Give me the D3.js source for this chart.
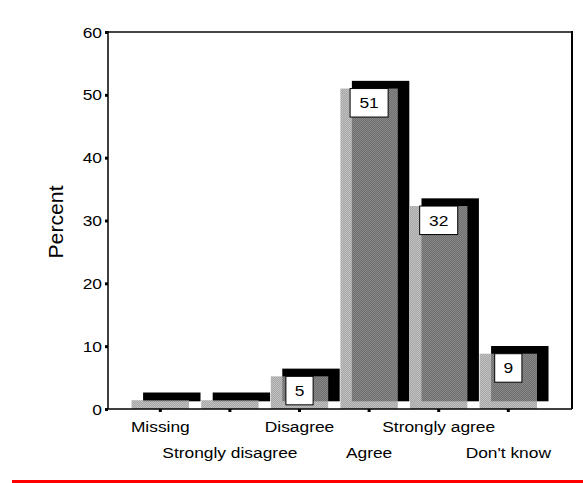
<!DOCTYPE html>
<html>
<head>
<meta charset="utf-8">
<script src="https://cdn.jsdelivr.net/npm/d3@7"></script>
<style>
  body { margin: 0; background: #fff; }
  text { font-family: "Liberation Sans", Arial, sans-serif; fill: #000; }
</style>
</head>
<body>
<svg id="chart" width="583" height="483"></svg>
<script>
const categories = ['Missing', 'Strongly disagree', 'Disagree', 'Agree', 'Strongly agree', "Don't know"];
const percents = [1.4, 1.4, 5.2, 51.0, 32.3, 8.8];
const yTicks = [0, 10, 20, 30, 40, 50, 60];

const svg = d3.select('#chart');

const frame = { left: 108, right: 572, top: 32, bottom: 409 };
const depth = { dx: 11.5, dy: -7.7 };

const x = d3.scaleBand()
    .domain(categories)
    .range([125.5, 543.1])
    .paddingInner(0.175)
    .paddingOuter(0.0875);

const y = d3.scaleLinear()
    .domain([0, 60])
    .range([frame.bottom, frame.top]);

// stretch text horizontally a bit, the original renders wider glyphs
function stretch (sel, factor) {
    sel.each(function () {
        var len = this.getComputedTextLength();
        d3.select(this)
            .attr('textLength', len * factor)
            .attr('lengthAdjust', 'spacingAndGlyphs');
    });
}

// low contrast stipple for the bar fronts
const defs = svg.append('defs');
const pat = defs.append('pattern')
    .attr('id', 'stipple')
    .attr('patternUnits', 'userSpaceOnUse')
    .attr('width', 2)
    .attr('height', 2);
pat.append('rect').attr('width', 2).attr('height', 2).attr('fill', '#8e8e8e');
pat.append('rect').attr('width', 1).attr('height', 1).attr('fill', '#aeaeae');
pat.append('rect').attr('x', 1).attr('y', 1).attr('width', 1).attr('height', 1).attr('fill', '#aeaeae');

// frame
svg.append('line')
    .attr('x1', frame.left).attr('x2', frame.right)
    .attr('y1', frame.top).attr('y2', frame.top)
    .attr('stroke', '#444').attr('stroke-width', 2);
svg.append('line')
    .attr('x1', frame.right).attr('x2', frame.right)
    .attr('y1', frame.top - 1).attr('y2', frame.bottom)
    .attr('stroke', '#000').attr('stroke-width', 2);

// shadows
svg.append('g').selectAll('rect')
    .data(percents)
    .join('rect')
    .attr('x', (d, i) => x(categories[i]) + depth.dx)
    .attr('y', d => y(d) + depth.dy)
    .attr('width', x.bandwidth())
    .attr('height', d => y(0) - y(d))
    .attr('fill', '#000');

// fronts
svg.append('g').selectAll('rect')
    .data(percents)
    .join('rect')
    .attr('x', (d, i) => x(categories[i]))
    .attr('y', d => y(d))
    .attr('width', x.bandwidth())
    .attr('height', d => y(0) - y(d))
    .attr('fill', 'url(#stipple)')
    .attr('opacity', 0.78);

// axes
const yAxis = svg.append('g')
    .attr('transform', 'translate(' + frame.left + ',0)')
    .call(d3.axisLeft(y).tickValues(yTicks).tickSize(3).tickPadding(3).tickFormat(d3.format('d')));
yAxis.select('.domain').remove();
yAxis.selectAll('.tick line').attr('stroke', '#000').attr('stroke-width', 3);
yAxis.selectAll('.tick text')
    .attr('font-size', 14)
    .attr('font-family', '"Liberation Sans", Arial, sans-serif')
    .attr('dy', '0.36em')
    .call(stretch, 1.24);

const xAxis = svg.append('g')
    .attr('transform', 'translate(0,' + frame.bottom + ')')
    .call(d3.axisBottom(x).tickSize(3).tickSizeOuter(0));
xAxis.select('.domain').remove();
xAxis.selectAll('.tick line').attr('stroke', '#000').attr('stroke-width', 3);
xAxis.selectAll('.tick text')
    .attr('font-size', 15.5)
    .attr('font-family', '"Liberation Sans", Arial, sans-serif')
    .attr('dy', null)
    .attr('y', (d, i) => i % 2 === 0 ? 22.5 : 49)
    .call(stretch, 1.12);

// axis lines
svg.append('line')
    .attr('x1', frame.left).attr('x2', frame.left)
    .attr('y1', frame.top - 1).attr('y2', frame.bottom)
    .attr('stroke', '#000').attr('stroke-width', 1.5);
svg.append('line')
    .attr('x1', frame.left).attr('x2', frame.right)
    .attr('y1', frame.bottom).attr('y2', frame.bottom)
    .attr('stroke', '#000').attr('stroke-width', 1.5);

// value labels
const fmt = d3.format('.0f');
const labels = svg.append('g').selectAll('g')
    .data(percents.map((d, i) => ({ cat: categories[i], value: d })).filter(d => d.value >= 3))
    .join('g')
    .attr('transform', d => 'translate(' + (x(d.cat) + x.bandwidth() / 2) + ',' + y(d.value) + ')');

const labelText = labels.append('text')
    .attr('text-anchor', 'middle')
    .attr('y', 19.5)
    .attr('font-size', 15.5)
    .text(d => fmt(d.value))
    .call(stretch, 1.12);

labels.insert('rect', 'text')
    .attr('x', function (d, i) { return -(labelText.nodes()[i].getComputedTextLength() * 1.12 + 16.4) / 2; })
    .attr('y', 0)
    .attr('width', function (d, i) { return labelText.nodes()[i].getComputedTextLength() * 1.12 + 16.4; })
    .attr('height', 28.5)
    .attr('fill', '#fff')
    .attr('stroke', '#000')
    .attr('stroke-width', 1);

// y title
svg.append('text')
    .attr('transform', 'translate(62.5,222) rotate(-90)')
    .attr('text-anchor', 'middle')
    .attr('font-size', 20)
    .text('Percent')
    .call(stretch, 1.06);

// red rule at the bottom
svg.append('line')
    .attr('x1', 12).attr('x2', 583)
    .attr('y1', 481.5).attr('y2', 481.5)
    .attr('stroke', '#ff0000').attr('stroke-width', 3);
</script>
</body>
</html>
